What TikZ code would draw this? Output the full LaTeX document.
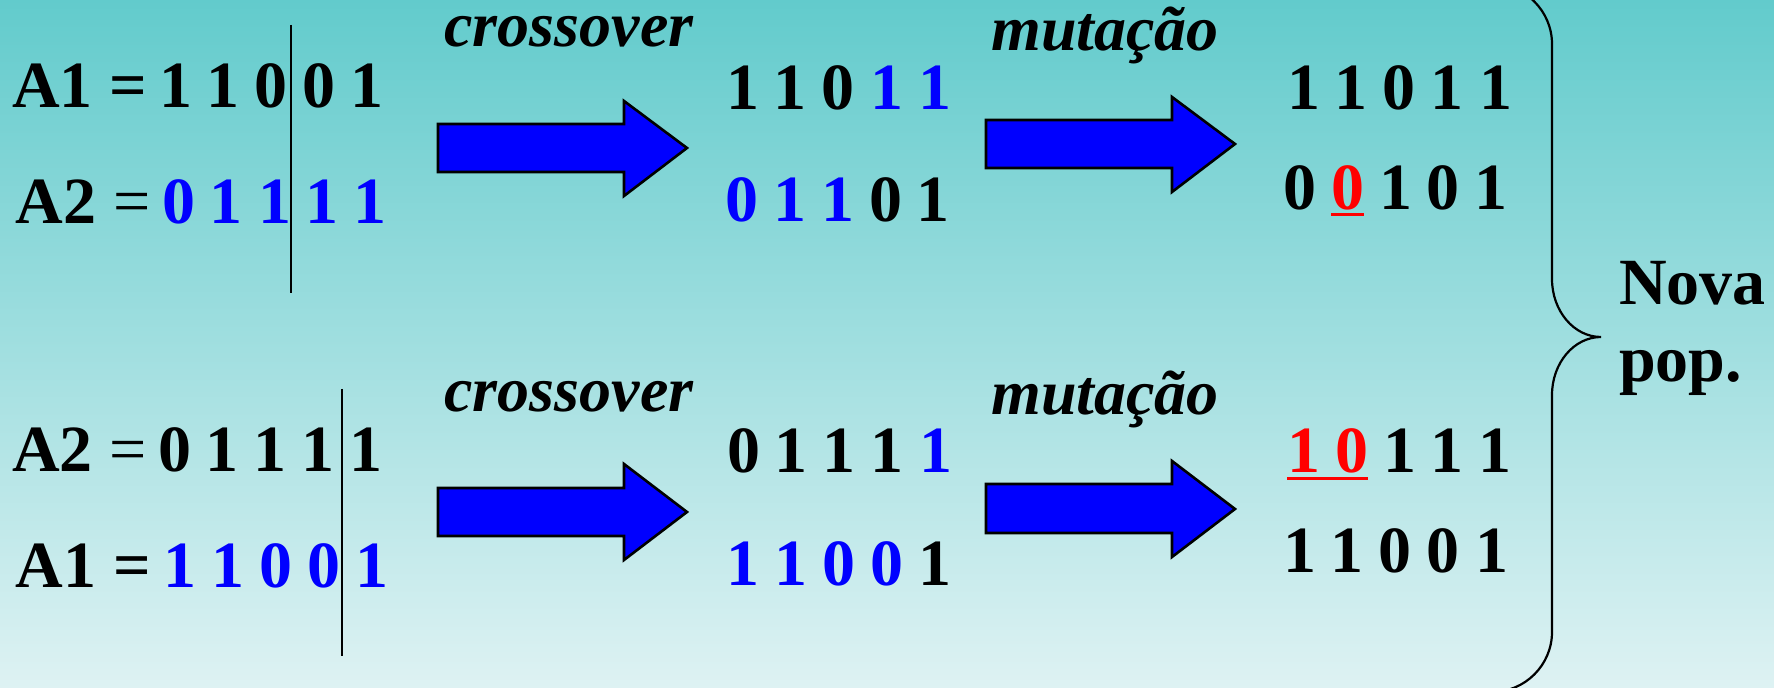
\documentclass[tikz,border=0pt]{standalone}
\usepackage{fontspec}
\setmainfont{Liberation Serif}
\definecolor{bgtop}{RGB}{98,203,204}
\definecolor{bgbot}{RGB}{222,242,243}
\newcommand\gp{\hspace{7.5pt}}
\newcommand\bbit[1]{\textcolor{blue}{#1}}
\newcommand\rbit[1]{\textcolor{red}{#1}}
\begin{document}
\begin{tikzpicture}[x=0.5pt,y=-0.5pt,
  txt/.style={inner sep=0pt, outer sep=0pt, anchor=base west, font=\fontsize{33}{38}\selectfont\bfseries},
  lbl/.style={inner sep=0pt, outer sep=0pt, anchor=base, font=\fontsize{32}{38}\selectfont\bfseries\itshape},
  blockarrow/.style={fill=blue, draw=black, line width=1.3pt, line join=miter},
  sepline/.style={draw=black, line width=1.35pt},
  braceline/.style={draw=black, line width=1.1pt},
  ul/.style={draw=red, line width=1.5pt}]
\useasboundingbox (0,0) rectangle (1774,688);
\shade[top color=bgtop, bottom color=bgbot] (0,0) rectangle (1774,688);

% ---- top block ----
\node[txt] (a1l) at (12,108) {A1 =};
\node[txt] (a1b) at (159,108) {1\gp1\gp0\gp0\gp1};
\node[txt] (a2l) at (16,224) {A2 {\mdseries =}};
\node[txt] (a2b) at (162,224) {\bbit{0}\gp\bbit{1}\gp\bbit{1}\gp\bbit{1}\gp\bbit{1}};
\draw[sepline] (291,25) -- (291,293);

\node[lbl] (co1) at (569,47) {crossover};
\draw[blockarrow] (438,124) -- (624,124) -- (624,101) -- (687,148) -- (624,196) -- (624,172) -- (438,172) -- cycle;

\node[txt] (c1) at (726,110) {1\gp1\gp0\gp\bbit{1}\gp\bbit{1}};
\node[txt] (c2) at (725,222) {\bbit{0}\gp\bbit{1}\gp\bbit{1}\gp0\gp1};

\node[lbl] (mu1) at (1105,51) {mutação};
\draw[blockarrow] (986,120) -- (1172,120) -- (1172,97) -- (1235,144) -- (1172,192) -- (1172,168) -- (986,168) -- cycle;

\node[txt] (m1) at (1287,110) {1\gp1\gp0\gp1\gp1};
\node[txt] (m2) at (1283,210) {0\gp\rbit{0}\gp1\gp0\gp1};
\draw[ul] (1331,214.5) -- (1364,214.5);

% ---- bottom block ----
\node[txt] (b2l) at (12,472) {A2 {\mdseries =}};
\node[txt] (b2b) at (158,472) {0\gp1\gp1\gp1\gp1};
\node[txt] (b1l) at (16,588) {A1 =};
\node[txt] (b1b) at (163,588) {\bbit{1}\gp\bbit{1}\gp\bbit{0}\gp\bbit{0}\gp\bbit{1}};
\draw[sepline] (342,389) -- (342,656);

\node[lbl] (co2) at (569,412) {crossover};
\draw[blockarrow] (438,488) -- (624,488) -- (624,464) -- (687,512) -- (624,560) -- (624,536) -- (438,536) -- cycle;

\node[txt] (d1) at (727,473) {0\gp1\gp1\gp1\gp\bbit{1}};
\node[txt] (d2) at (726,586) {\bbit{1}\gp\bbit{1}\gp\bbit{0}\gp\bbit{0}\gp1};

\node[lbl] (mu2) at (1105,415) {mutação};
\draw[blockarrow] (986,484) -- (1172,484) -- (1172,461) -- (1235,509) -- (1172,557) -- (1172,533) -- (986,533) -- cycle;

\node[txt] (n1) at (1287,473) {\rbit{1}\gp\rbit{0}\gp1\gp1\gp1};
\node[txt] (n2) at (1283,573) {1\gp1\gp0\gp0\gp1};
\draw[ul] (1287,478.5) -- (1368,478.5);

% ---- brace and label ----
\draw[braceline] (1492,-16) .. controls (1525,-16) and (1552,11) .. (1552,44)
  -- (1552,279) .. controls (1552,311) and (1574,337) .. (1601,337)
  .. controls (1574,337) and (1552,363) .. (1552,395)
  -- (1552,632) .. controls (1552,665) and (1525,692) .. (1492,692);
\node[txt] (nova) at (1619,305) {Nova};
\node[txt] (pop) at (1619,382) {pop.};
\end{tikzpicture}
\end{document}
